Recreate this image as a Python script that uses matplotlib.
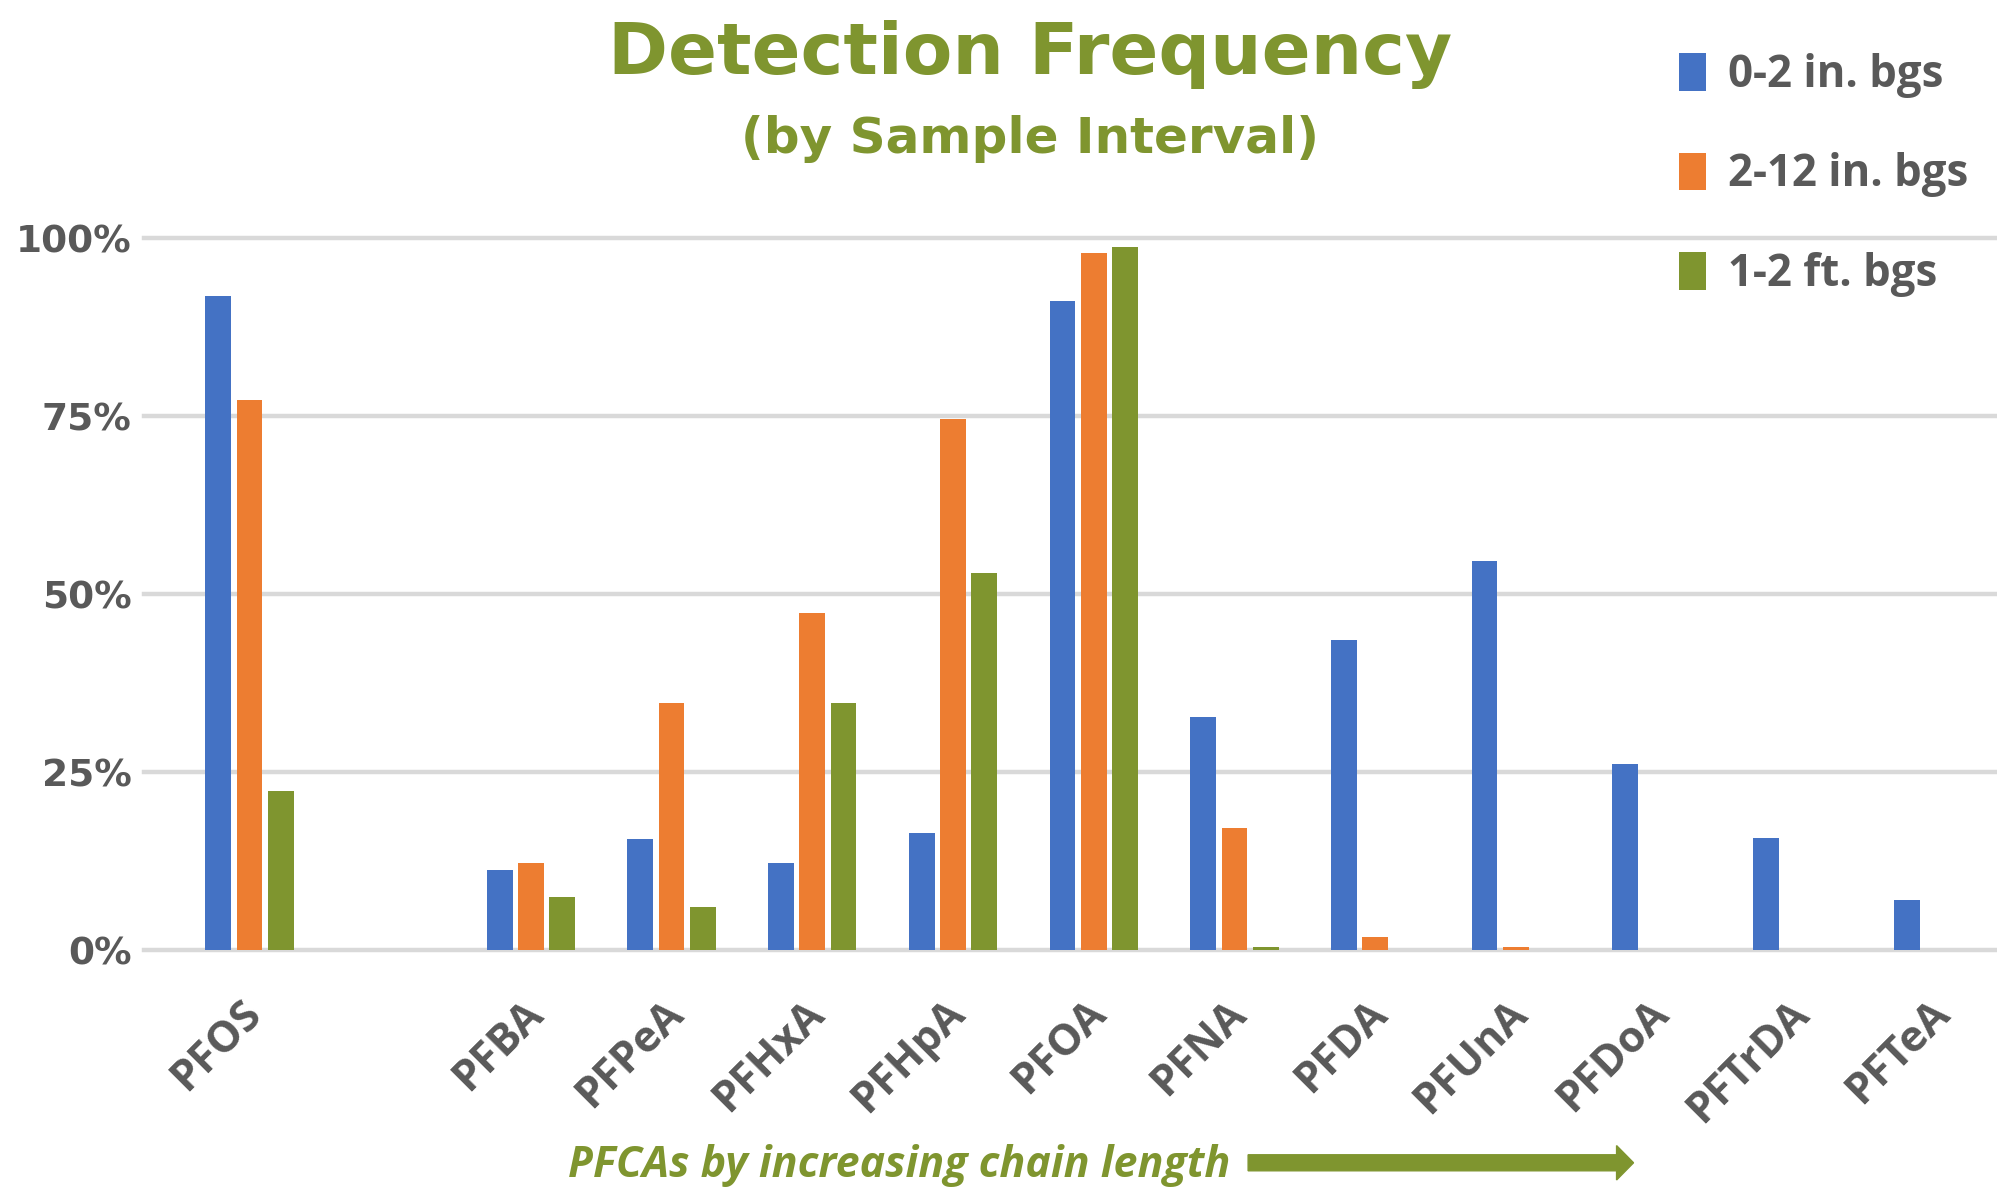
import numpy as np
import matplotlib
matplotlib.use("Agg")
from matplotlib import pyplot as plt
from matplotlib.patches import FancyArrow
import matplotlib.transforms as mtransforms

# detection frequency (%) per compound, one list per sample interval
compounds = ["PFOS", "", "PFBA", "PFPeA", "PFHxA", "PFHpA", "PFOA",
             "PFNA", "PFDA", "PFUnA", "PFDoA", "PFTrDA", "PFTeA"]
series_names = ["0-2 in. bgs", "2-12 in. bgs", "1-2 ft. bgs"]
df_0_2in = [91.9, np.nan, 11.3, 15.6, 12.2, 16.5, 91.2, 32.7, 43.5, 54.7, 26.1, 15.7, 7.0]
df_2_12in = [77.3, np.nan, 12.2, 34.7, 47.4, 74.6, 97.9, 17.2, 1.8, 0.5, 0, 0, 0]
df_1_2ft = [22.4, np.nan, 7.5, 6.1, 34.7, 53.0, 98.7, 0.5, 0, 0, 0, 0, 0]
yticks = [0, 25, 50, 75, 100]

colors = ["#4472C4", "#ED7D31", "#7F952F"]
olive = "#7F952F"
gray = "#595959"

fig = plt.figure(figsize=(19.97, 11.87), dpi=100)
ax = fig.add_axes([0.0721, 0.1996, 0.9279, 0.5998])

x = np.arange(len(compounds))
step = 0.222
width = 0.183
for k, vals in enumerate([df_0_2in, df_2_12in, df_1_2ft]):
    ax.bar(x + (k - 1) * step, vals, width=width, color=colors[k],
           label=series_names[k], zorder=3)

ax.set_xlim(-0.75, 12.42)
ax.set_ylim(0, 100)
ax.set_yticks(yticks)
ax.set_yticklabels([f"{v}%" for v in yticks], fontsize=27, fontweight="bold",
                   color=gray, family="DejaVu Sans")
for v in yticks:
    ax.axhline(v, color="#D9D9D9", lw=3.2, zorder=1, clip_on=False)
ax.tick_params(axis="y", length=0, pad=9)
ax.tick_params(axis="x", length=0, pad=30)
ax.set_xticks(x)
ax.set_xticklabels(compounds, rotation=45, ha="right", va="top",
                   rotation_mode="anchor", fontsize=31, fontweight="bold",
                   color=gray, family="Open Sans")
shift = mtransforms.ScaledTranslation(-10 / 100, 0, fig.dpi_scale_trans)
for lbl in ax.get_xticklabels():
    lbl.set_transform(lbl.get_transform() + shift)
for s in ax.spines.values():
    s.set_visible(False)

fig.text(0.516, 0.938, "Detection Frequency", ha="center", va="baseline",
         fontsize=52, fontweight="bold", color=olive, family="DejaVu Sans")
fig.text(0.516, 0.871, "(by Sample Interval)", ha="center", va="baseline",
         fontsize=36, fontweight="bold", color=olive, family="DejaVu Sans")

leg = ax.legend(loc="upper left", bbox_to_anchor=(0.807, 1.3156), frameon=False,
                prop={"family": "Open Sans", "weight": "bold", "size": 31.5},
                handlelength=0.63, handleheight=0.95, handletextpad=0.5,
                labelspacing=1.25, labelcolor=gray)

fig.text(0.4505, 0.0086, "PFCAs by increasing chain length", ha="center",
         va="baseline", fontsize=31, fontweight="bold", style="italic",
         color=olive, family="Open Sans")
fig.patches.append(FancyArrow(0.625, 0.0204, 0.193, 0, width=0.0135,
                              head_width=0.029, head_length=0.0085,
                              length_includes_head=True, color=olive,
                              transform=fig.transFigure, figure=fig))

fig.savefig("out.png", dpi=100, facecolor="white")
